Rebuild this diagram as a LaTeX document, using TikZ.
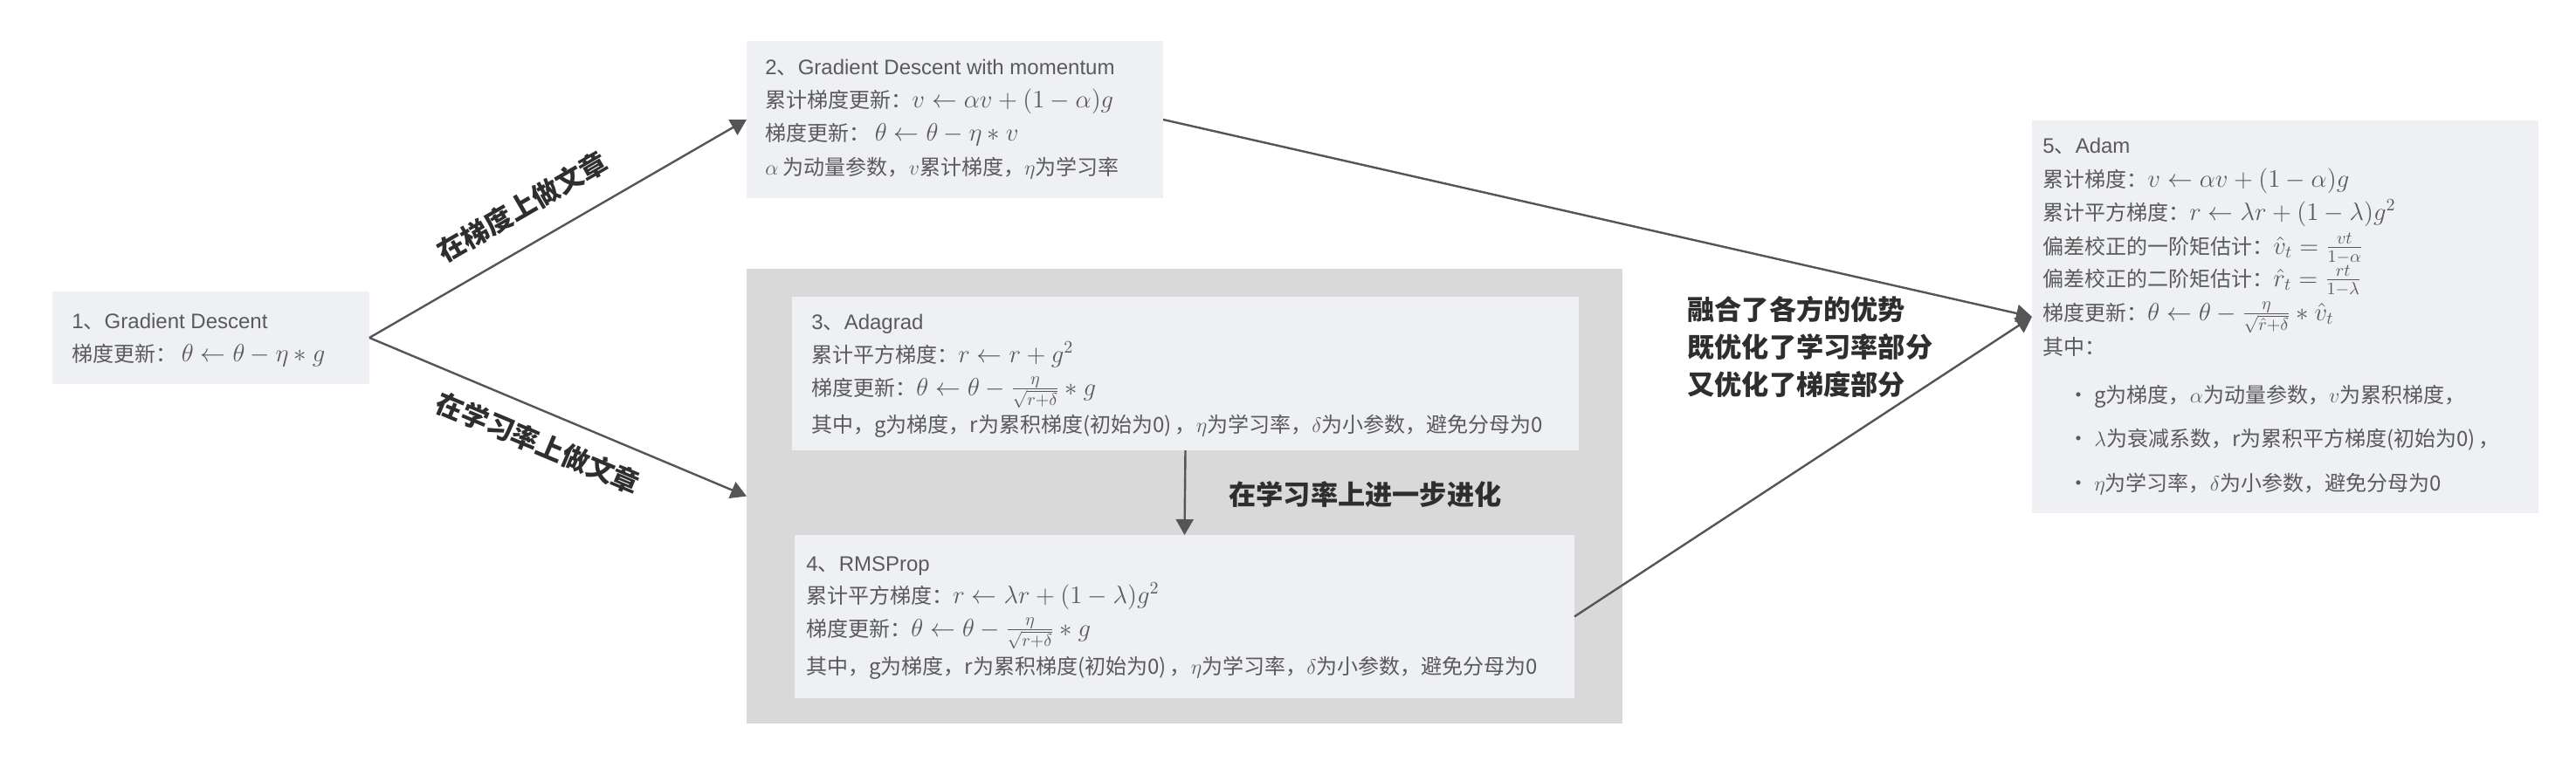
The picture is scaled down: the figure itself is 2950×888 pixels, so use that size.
\documentclass[tikz,border=0pt]{standalone}
\usepackage{fontspec}
\setmainfont{Noto Sans CJK SC}
\newfontfamily\latf{Liberation Sans}
\usetikzlibrary{arrows.meta}
\definecolor{boxfill}{HTML}{EEF0F4}
\definecolor{grpfill}{HTML}{D9D9D9}
\definecolor{txtc}{HTML}{5A5A5A}
\definecolor{lblc}{HTML}{2E2E2E}
\definecolor{arrc}{HTML}{555555}
\newcommand\mth[1]{{\fontsize{14.4}{19}\selectfont$#1$}}
\newcommand\la[1]{{\latf #1}}
\begin{document}
\begin{tikzpicture}[x=0.5pt,y=-0.5pt,
  box/.style={fill=boxfill, draw=none, inner sep=0pt, outer sep=0pt},
  grpbox/.style={fill=grpfill, draw=none, inner sep=0pt, outer sep=0pt},
  ln/.style={anchor=base west, inner sep=0pt, text=txtc, font=\fontsize{12}{19}\selectfont},
  lbl/.style={text=lblc, font=\fontsize{15.6}{21.5}\selectfont\bfseries, inner sep=0pt},
  arr/.style={draw=arrc, line width=1.2pt, -{Triangle[length=9pt,width=10pt]}},
]
\useasboundingbox (0,0) rectangle (2950,888);

% boxes
\node[box, minimum width=181.5pt, minimum height=53pt] (b1) at (241.5,387) {};
\node[box, minimum width=238.5pt, minimum height=90pt] (b2) at (1093.5,137) {};
\node[grpbox, minimum width=501.5pt, minimum height=260.5pt] (grp) at (1356.5,568.5) {};
\node[box, minimum width=450.5pt, minimum height=88pt] (b3) at (1357.5,428) {};
\node[box, minimum width=446.5pt, minimum height=93.5pt] (b4) at (1356.5,706.5) {};
\node[box, minimum width=290pt, minimum height=225pt] (b5) at (2617,363) {};

% box 1 text
\node[ln] (t1a) at (82,376) {\la{1}、\la{Gradient Descent}};
\node[ln] (t1b) at (82,414) {梯度更新：\ \mth{\theta \leftarrow \theta - \eta * g}};

% box 2 text
\node[ln] (t2a) at (876,86) {\la{2}、\la{Gradient Descent with momentum}};
\node[ln] (t2b) at (876,124) {累计梯度更新：\mth{v \leftarrow \alpha v + (1-\alpha) g}};
\node[ln] (t2c) at (876,162) {梯度更新：\ \mth{\theta \leftarrow \theta - \eta * v}};
\node[ln] (t2d) at (876,200) {$\alpha$ 为动量参数，$v$累计梯度，$\eta$为学习率};

% box 3 text
\node[ln] (t3a) at (929,377) {\la{3}、\la{Adagrad}};
\node[ln] (t3b) at (929,415) {累计平方梯度：\mth{r \leftarrow r + g^2}};
\node[ln] (t3c) at (929,453) {梯度更新：\mth{\theta \leftarrow \theta - \frac{\eta}{\sqrt{r+\delta}} * g}};
\node[ln] (t3d) at (929,495) {其中，g为梯度，r为累积梯度(初始为0)\,，$\eta$为学习率，$\delta$为小参数，避免分母为0};

% box 4 text
\node[ln] (t4a) at (923,654) {\la{4}、\la{RMSProp}};
\node[ln] (t4b) at (923,691) {累计平方梯度：\mth{r \leftarrow \lambda r + (1-\lambda) g^2}};
\node[ln] (t4c) at (923,729) {梯度更新：\mth{\theta \leftarrow \theta - \frac{\eta}{\sqrt{r+\delta}} * g}};
\node[ln] (t4d) at (923,772) {其中，g为梯度，r为累积梯度(初始为0)\,，$\eta$为学习率，$\delta$为小参数，避免分母为0};

% box 5 text
\node[ln] (t5a) at (2339,176) {\la{5}、\la{Adam}};
\node[ln] (t5b) at (2339,214) {累计梯度：\mth{v \leftarrow \alpha v + (1-\alpha) g}};
\node[ln] (t5c) at (2339,252) {累计平方梯度：\mth{r \leftarrow \lambda r + (1-\lambda) g^2}};
\node[ln] (t5d) at (2339,291) {偏差校正的一阶矩估计：\mth{\hat{v}_t = \frac{vt}{1-\alpha}}};
\node[ln] (t5e) at (2339,328) {偏差校正的二阶矩估计：\mth{\hat{r}_t = \frac{rt}{1-\lambda}}};
\node[ln] (t5f) at (2339,367) {梯度更新：\mth{\theta \leftarrow \theta - \frac{\eta}{\sqrt{\hat{r}+\delta}} * \hat{v}_t}};
\node[ln] (t5g) at (2339,406) {其中：};
\node[ln] (t5h) at (2368,461) {•\hspace{3pt}g为梯度，$\alpha$为动量参数，$v$为累积梯度，};
\node[ln] (t5i) at (2368,511) {•\hspace{3pt}$\lambda$为衰减系数，r为累积平方梯度(初始为0)\,，};
\node[ln] (t5j) at (2368,562) {•\hspace{3pt}$\eta$为学习率，$\delta$为小参数，避免分母为0};

% connectors with labels
\draw[arr] (b1.east) -- node[lbl, sloped, above=13pt, pos=0.455] (l1) {在梯度上做文章} (b2.west);
\draw[arr] (b1.east) -- node[lbl, sloped, below=10pt, pos=0.48] (l2) {在学习率上做文章} (grp.west);
\draw[arr] (b3.south) -- (b4.north);
\draw[arr] (b2.east) -- (b5.west);
\draw[arr] (b4.east) -- (b5.west);

% free labels
\node[lbl, anchor=west] (l3) at (1407,567) {在学习率上进一步进化};
\node[lbl, anchor=west, align=left] (l4) at (1932,397) {融合了各方的优势\\既优化了学习率部分\\又优化了梯度部分};
\end{tikzpicture}
\end{document}
